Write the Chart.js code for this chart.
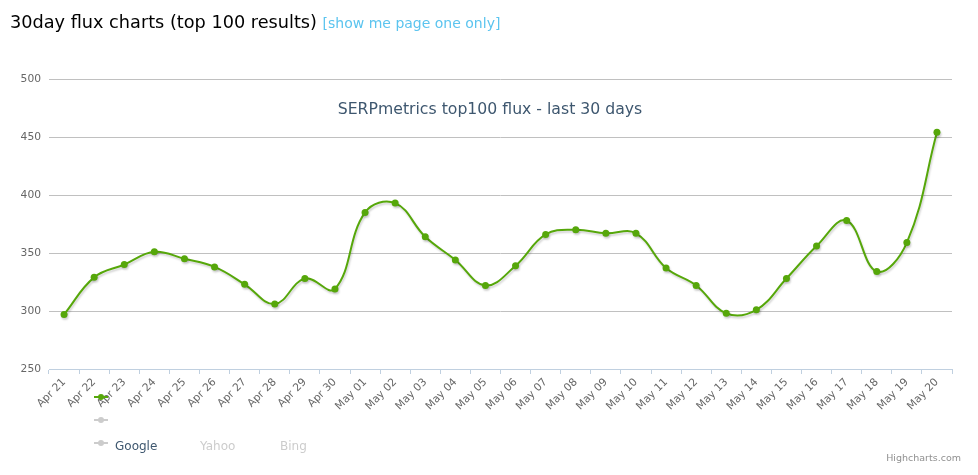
<!DOCTYPE html>
<html>
<head>
<meta charset="utf-8">
<script src="https://cdn.jsdelivr.net/npm/chart.js@4.4.0/dist/chart.umd.min.js"></script>
<style>
    body { margin: 0; background: #fff; font-family: "DejaVu Sans", Verdana, sans-serif; }
    #wrap { position: relative; width: 978px; height: 475px; overflow: hidden; }
    #fluxChart { position: absolute; left: 0; top: 0; }
    h1 { position: absolute; left: 10px; top: 12px; margin: 0; font-size: 17.7px; font-weight: normal; color: #000; white-space: nowrap; }
    h1 a { color: #5bc4ef; font-size: 14px; text-decoration: none; }
    .leg-sym { position: absolute; width: 14px; height: 2px; }
    .leg-sym span { position: absolute; left: 4px; top: -2px; width: 6px; height: 6px; border-radius: 50%; }
    .leg-txt { position: absolute; font-size: 12px; }
    #credit { position: absolute; right: 17px; top: 452px; font-size: 9.5px; color: #909090; }
</style>
</head>
<body>
<div id="wrap">
    <canvas id="fluxChart" width="978" height="475"></canvas>
    <h1>30day flux charts (top 100 results) <a href="#">[show me page one only]</a></h1>
    <div id="legend"></div>
    <div id="credit">Highcharts.com</div>
</div>
<script>
// du lieu bieu do
var categories = ['Apr 21', 'Apr 22', 'Apr 23', 'Apr 24', 'Apr 25', 'Apr 26', 'Apr 27', 'Apr 28', 'Apr 29', 'Apr 30',
    'May 01', 'May 02', 'May 03', 'May 04', 'May 05', 'May 06', 'May 07', 'May 08', 'May 09', 'May 10',
    'May 11', 'May 12', 'May 13', 'May 14', 'May 15', 'May 16', 'May 17', 'May 18', 'May 19', 'May 20'];
var googleValues = [297, 329, 340, 351, 345, 338, 323, 306, 328, 319,
    385, 393, 364, 344, 322, 339, 366, 370, 367, 367,
    337, 322, 298, 301, 328, 356, 378, 334, 359, 454];
var yahooValues = [];
var bingValues = [];
var seriesNames = ['Google', 'Yahoo', 'Bing'];
var seriesVisible = [true, false, false];
var yTicks = [250, 300, 350, 400, 450, 500];

var green = '#56a70a';
var hiddenGray = '#cccccc';
var legendX = [115, 200, 280];

// tieu de nam ben trong vung ve
var innerTitle = {
    id: 'innerTitle',
    afterDraw: function (chart) {
        var ctx = chart.ctx;
        ctx.save();
        ctx.font = '15.7px "DejaVu Sans", sans-serif';
        ctx.fillStyle = '#3e576f';
        ctx.textAlign = 'center';
        ctx.textBaseline = 'middle';
        ctx.fillText('SERPmetrics top100 flux - last 30 days', 490, 110);
        ctx.restore();
    }
};

// bong mo duoi duong
var lineShadow = {
    id: 'lineShadow',
    beforeDatasetsDraw: function (chart) {
        var ctx = chart.ctx;
        ctx.save();
        ctx.shadowColor = 'rgba(0,0,0,0.18)';
        ctx.shadowOffsetX = 1;
        ctx.shadowOffsetY = 2;
        ctx.shadowBlur = 2;
    },
    afterDatasetsDraw: function (chart) {
        chart.ctx.restore();
    }
};

var ctx = document.getElementById('fluxChart').getContext('2d');
var fluxChart = new Chart(ctx, {
    type: 'line',
    data: {
        labels: categories,
        datasets: [
            { label: seriesNames[0], data: googleValues, hidden: !seriesVisible[0] },
            { label: seriesNames[1], data: yahooValues, hidden: !seriesVisible[1] },
            { label: seriesNames[2], data: bingValues, hidden: !seriesVisible[2] }
        ].map(function (d) {
            d.borderColor = green;
            d.backgroundColor = green;
            d.borderWidth = 2;
            d.pointRadius = 3.5;
            d.pointBorderWidth = 0;
            d.pointHoverRadius = 4;
            d.tension = 0.4;
            d.fill = false;
            return d;
        })
    },
    options: {
        responsive: false,
        animation: false,
        layout: { padding: { top: 79, right: 26, left: 0, bottom: 0 } },
        plugins: {
            legend: { display: false },
            title: { display: false },
            tooltip: { enabled: false }
        },
        scales: {
            x: {
                offset: true,
                grid: { offset: true, drawOnChartArea: false, drawTicks: true, tickLength: 5, color: '#c0d0e0' },
                border: { color: '#c0d0e0', width: 1 },
                ticks: {
                    autoSkip: false, maxRotation: 45, minRotation: 45, padding: 2,
                    color: '#666', font: { family: '"DejaVu Sans", sans-serif', size: 10.7 }
                },
                afterFit: function (scale) { scale.height = 106; }
            },
            y: {
                min: yTicks[0],
                max: yTicks[yTicks.length - 1],
                afterBuildTicks: function (scale) {
                    scale.ticks = yTicks.map(function (v) { return { value: v }; });
                },
                grid: { color: '#c0c0c0', drawTicks: false },
                border: { display: false },
                ticks: { padding: 8, color: '#666', font: { family: '"DejaVu Sans", sans-serif', size: 10.7 } },
                afterFit: function (scale) { scale.width = 49; }
            }
        }
    },
    plugins: [innerTitle, lineShadow]
});

// chu thich (legend) tu ten cac chuoi
var legendHtml = '';
seriesNames.forEach(function (name, i) {
    var col = seriesVisible[i] ? green : hiddenGray;
    legendHtml += '<div class="leg-sym" style="left:94px;top:' + (396 + i * 23) + 'px;background:' + col + '"><span style="background:' + col + '"></span></div>';
    legendHtml += '<div class="leg-txt" style="left:' + legendX[i] + 'px;top:439px;color:' + (seriesVisible[i] ? '#3e576f' : hiddenGray) + '">' + name + '</div>';
});
document.getElementById('legend').innerHTML = legendHtml;
</script>
</body>
</html>
